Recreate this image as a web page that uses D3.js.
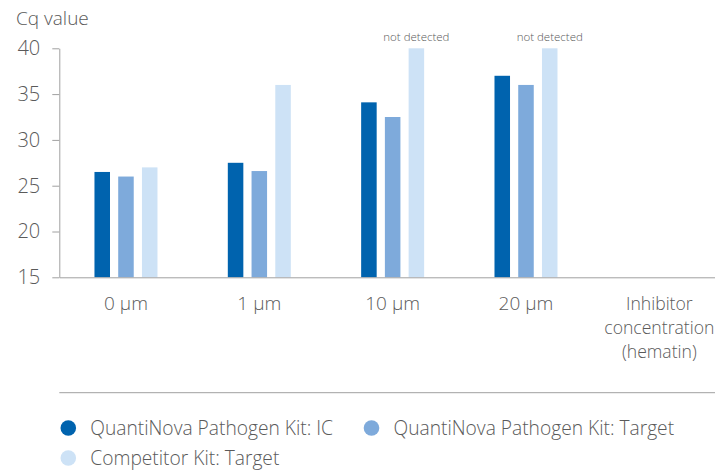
<!DOCTYPE html>
<html>
<head>
<meta charset="utf-8">
<script src="https://cdn.jsdelivr.net/npm/d3@7"></script>
<style>
  html, body { margin: 0; padding: 0; background: #fff; }
  svg { display: block; font-family: "Open Sans", "Noto Sans", sans-serif; font-weight: 300; }
</style>
</head>
<body>
<svg id="chart" width="715" height="471"></svg>
<script>
// ---- data ----
const categories = ["0 µm", "1 µm", "10 µm", "20 µm", "Inhibitor concentration (hematin)"];
const seriesNames = ["QuantiNova Pathogen Kit: IC", "QuantiNova Pathogen Kit: Target", "Competitor Kit: Target"];
const seriesColors = ["#0063ae", "#7eaadb", "#cde2f6"];
const icValues = [26.5, 27.5, 34.1, 37.0];
const targetValues = [26.0, 26.6, 32.5, 36.0];
const competitorValues = [27.0, 36.0, 40, 40];
const notDetected = [false, false, true, true];
const yTicks = [15, 20, 25, 30, 35, 40];
const axisTitle = "Cq value";
const xLabelLines = [["0 µm"], ["1 µm"], ["10 µm"], ["20 µm"], ["Inhibitor", "concentration", "(hematin)"]];

const seriesValues = [icValues, targetValues, competitorValues];

const svg = d3.select("#chart");
const textColor = "#5a5a5a";
const axisColor = "#a0a0a0";
const fontFam = "'Open Sans', 'Noto Sans', sans-serif";

const y = d3.scaleLinear().domain([15, 40]).range([277.3, 48.3]);
const x0 = d3.scaleBand().domain(categories).range([59.3, 726]).padding(0);
const half = 31.5;
const x1 = d3.scaleBand().domain(seriesNames)
  .range([x0.bandwidth() / 2 - half, x0.bandwidth() / 2 + half])
  .paddingInner(0.346).paddingOuter(0);

// bars
const groups = svg.append("g").selectAll("g")
  .data(categories.slice(0, 4))
  .join("g")
  .attr("transform", d => `translate(${x0(d)},0)`);

groups.selectAll("rect")
  .data((d, i) => seriesNames.map((s, j) => ({ s, j, v: seriesValues[j][i] })))
  .join("rect")
  .attr("x", d => x1(d.s))
  .attr("width", x1.bandwidth())
  .attr("y", d => y(d.v))
  .attr("height", d => y(15) - y(d.v))
  .attr("fill", d => seriesColors[d.j]);

// not detected labels
groups.filter((d, i) => notDetected[i])
  .append("text")
  .attr("x", x1(seriesNames[2]) + x1.bandwidth() / 2)
  .attr("y", 41)
  .attr("text-anchor", "middle")
  .attr("font-size", 11.5)
  .attr("fill", textColor)
  .text("not detected");

// y axis
const yAxis = svg.append("g")
  .attr("transform", `translate(${x0.range()[0]},0)`)
  .call(d3.axisLeft(y).tickValues(yTicks).tickSize(7).tickSizeOuter(0).tickPadding(12));
yAxis.select(".domain").attr("stroke", axisColor);
yAxis.selectAll(".tick line").attr("stroke", axisColor);
yAxis.selectAll(".tick text")
  .attr("font-size", 20).attr("fill", textColor)
  .attr("font-family", fontFam).attr("font-weight", 300);

// x axis
const xAxis = svg.append("g")
  .attr("transform", `translate(0,${y(15)})`)
  .call(d3.axisBottom(x0).tickSize(0).tickSizeOuter(0).tickFormat(() => ""));
xAxis.select(".domain").attr("stroke", axisColor);
xAxis.selectAll(".tick").each(function (d, i) {
  const lines = xLabelLines[i];
  const multi = lines.length > 1;
  const t = d3.select(this).select("text")
    .attr("font-size", multi ? 17.6 : 19).attr("fill", textColor)
    .attr("font-family", fontFam).attr("font-weight", 300)
    .attr("y", 0).attr("dy", null);
  t.selectAll("tspan").data(lines).join("tspan")
    .attr("x", 0)
    .attr("y", (l, k) => 33 + k * 24)
    .text(l => l);
});

// axis title
svg.append("text")
  .attr("x", 16).attr("y", 25)
  .attr("font-size", 19).attr("fill", textColor)
  .text(axisTitle);

// separator
svg.append("line")
  .attr("x1", 59.3).attr("x2", 715).attr("y1", 392.7).attr("y2", 392.7)
  .attr("stroke", axisColor);

// legend
const legendPos = [[68.3, 428], [371.5, 428], [68.3, 458]];
const leg = svg.append("g").selectAll("g")
  .data(seriesNames)
  .join("g")
  .attr("transform", (d, i) => `translate(${legendPos[i][0]},${legendPos[i][1]})`);
leg.append("circle").attr("r", 7.8).attr("fill", (d, i) => seriesColors[i]);
leg.append("text")
  .attr("x", 22).attr("dy", "0.35em")
  .attr("font-size", 19.2).attr("fill", textColor)
  .text(d => d);
</script>
</body>
</html>
